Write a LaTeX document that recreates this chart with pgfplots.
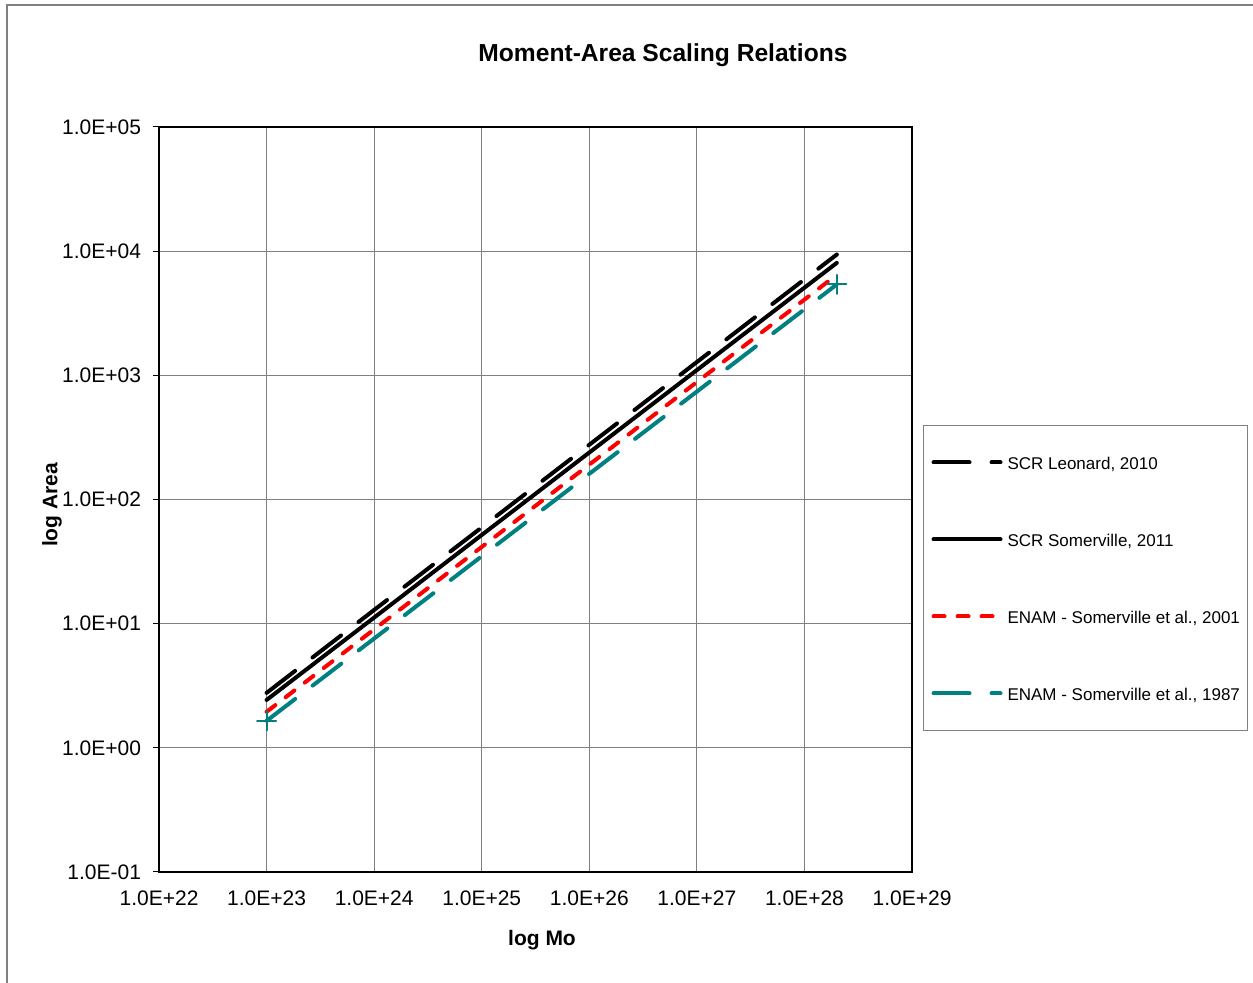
\documentclass[border=0pt]{standalone}
\usepackage{fontspec}
\setmainfont{Liberation Sans}
\usepackage{pgfplots}
\pgfplotsset{compat=1.18}
\definecolor{tealA}{RGB}{0,128,128}
\definecolor{gridgray}{RGB}{128,128,128}
\begin{document}
\begin{tikzpicture}
\path[use as bounding box] (0pt,0pt) rectangle (626.5pt,491.5pt);
\draw[gridgray, line width=0.75pt] (3.5pt,0pt) -- (3.5pt,489pt) -- (626.5pt,489pt);
\node[font=\fontsize{12.3}{14}\selectfont\bfseries] at (331.5pt,464pt) {Moment-Area Scaling Relations};
\node[font=\fontsize{10.5}{12}\selectfont\bfseries] at (271pt,21.5pt) {log Mo};
\node[font=\fontsize{10.5}{12}\selectfont\bfseries, rotate=90] at (26pt,239pt) {log Area};
\begin{axis}[
  at={(79.5pt,55.5pt)}, anchor=south west,
  scale only axis, width=376.5pt, height=372.5pt,
  xmode=log, ymode=log,
  xmin=1e22, xmax=1e29, ymin=1e-1, ymax=1e5,
  xtick={1e22,1e23,1e24,1e25,1e26,1e27,1e28,1e29},
  xticklabels={1.0E+22,1.0E+23,1.0E+24,1.0E+25,1.0E+26,1.0E+27,1.0E+28,1.0E+29},
  ytick={1e-1,1e0,1e1,1e2,1e3,1e4,1e5},
  yticklabels={1.0E-01,1.0E+00,1.0E+01,1.0E+02,1.0E+03,1.0E+04,1.0E+05},
  xminorticks=false, yminorticks=false,
  xtick pos=bottom, ytick pos=left,
  grid=major, major grid style={gridgray, line width=0.5pt},
  axis line style={black, line width=0.6pt},
  xtick style={draw=none},
  ytick style={black, line width=0.5pt},
  ytick align=outside, major tick length=3pt,
  tick label style={font=\fontsize{10.5}{12}\selectfont},
  xticklabel style={yshift=-6pt},
  yticklabel style={xshift=-2.5pt},
  legend style={at={(1.0146,0.6)}, anchor=north west, draw=gridgray, line width=0.5pt,
    font=\fontsize{8.5}{10}\selectfont, inner xsep=4pt, inner ysep=14.5pt,
    row sep=30.5pt,
    nodes={inner sep=0pt, text height=7.5pt, text depth=0.5pt},
    /tikz/every odd column/.append style={column sep=2.5pt}},
  legend cell align=left,
  legend image code/.code={\draw[#1] (0pt,0pt) -- (33.5pt,0pt);},
]
\addplot[black, line width=2pt, dash pattern=on 18pt off 11pt, line cap=round] coordinates {
 (1e23,2.77) (1e24,12.9) (1e25,59.6) (1e26,276) (1e27,1280) (1e28,5930) (2e28,9400)};
\addlegendentry{SCR Leonard, 2010}
\addplot[black, line width=2pt, line cap=round] coordinates {
 (1e23,2.43) (1e24,11.2) (1e25,51.8) (1e26,239) (1e27,1102) (1e28,5080) (2e28,8050)};
\addlegendentry{SCR Somerville, 2011}
\addplot[red, line width=2pt, dash pattern=on 5.5pt off 6.5pt, line cap=round] coordinates {
 (1e23,1.95) (1e24,9.0) (1e25,41.5) (1e26,191) (1e27,883) (1e28,4074) (2e28,6460)};
\addlegendentry{ENAM - Somerville et al., 2001}
\addplot[tealA, line width=2pt, dash pattern=on 18pt off 11pt, line cap=round,
  mark=+, mark indices={1,7}, mark options={solid, line width=1pt, mark size=4.75pt}] coordinates {
 (1e23,1.65) (1e24,7.59) (1e25,34.9) (1e26,161) (1e27,740) (1e28,3404) (2e28,5400)};
\addlegendentry{ENAM - Somerville et al., 1987}
\end{axis}
\end{tikzpicture}
\end{document}
